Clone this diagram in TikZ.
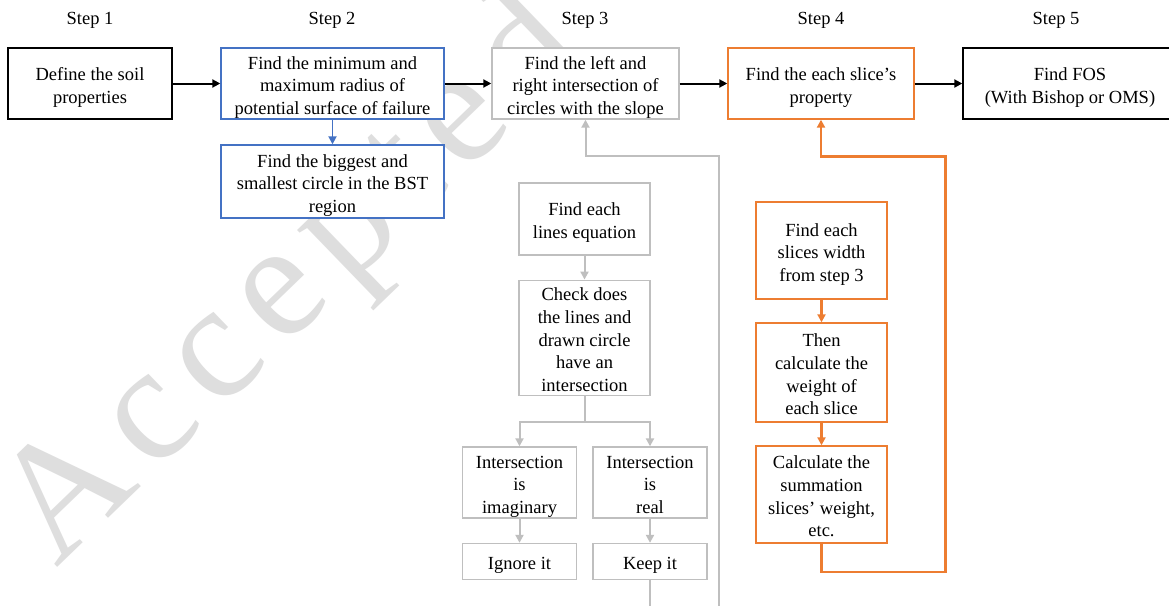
\documentclass[tikz,border=0pt]{standalone}
\usepackage{fontspec}
\setmainfont{Liberation Serif}
\newfontfamily\markfont[LetterSpace=10]{Liberation Serif}
\usetikzlibrary{arrows.meta}
\definecolor{boxblue}{HTML}{4472C4}
\definecolor{boxorange}{HTML}{ED7D31}
\definecolor{boxgrey}{HTML}{BFBFBF}
\definecolor{markgrey}{HTML}{DEDEDE}

\begin{document}
\begin{tikzpicture}[x=1pt,y=-1pt,
  every node/.style={font=\fontsize{18.5}{22.7}\selectfont},
  box/.style={draw, fill=white, line width=1.4pt, align=flush center, inner sep=0pt,
    text width=#1, minimum width=#1,
    execute at begin node={\noindent\rule{0pt}{20.5pt}},
    execute at end node={\rule[-4pt]{0pt}{4pt}}},
  blackbox/.style={box=#1, draw=black},
  bluebox/.style={box=#1, draw=boxblue},
  greybox/.style={box=#1, draw=boxgrey},
  orangebox/.style={box=#1, draw=boxorange},
  tip/.style={-{Triangle[length=8pt,width=8pt]}},
  blackline/.style={tip, line width=2pt, draw=black},
  blueline/.style={tip, line width=1.8pt, draw=boxblue},
  greyline/.style={tip, line width=2pt, draw=boxgrey},
  orangeline/.style={tip, line width=2.2pt, draw=boxorange},
  steplabel/.style={font=\fontsize{18.5}{22}\selectfont}]
\useasboundingbox (0,0) rectangle (1169,605);
\fill[white] (0,0) rectangle (1169,605);

% watermark behind everything
\node[rotate=44, anchor=base west, text=markgrey, inner sep=0pt,
      font=\markfont\fontsize{165}{165}\selectfont] (mark) at (56,569) {Accepted};

% step headings
\node[steplabel] (s1) at (90,20) {Step 1};
\node[steplabel] (s2) at (332,20) {Step 2};
\node[steplabel] (s3) at (585,20) {Step 3};
\node[steplabel] (s4) at (821,20) {Step 4};
\node[steplabel] (s5) at (1056,20) {Step 5};

% main row
\node[blackbox=164pt, minimum height=71pt] (b1) at (90,83.5) {Define the soil\\properties};
\node[bluebox=223pt, minimum height=71pt] (b2) at (332.5,83.5) {Find the minimum and\\maximum radius of\\potential surface of failure};
\node[greybox=187pt, minimum height=71pt] (b3) at (585.5,83.5) {Find the left and\\right intersection of\\circles with the slope};
\node[orangebox=186pt, minimum height=71pt] (b4) at (821,83.5) {Find the each slice’s\\property};
\node[blackbox=214pt, minimum height=71pt] (b5) at (1070,83.5) {Find FOS\\(With Bishop or OMS)};

\draw[blackline] (b1) -- (b2);
\draw[blackline] (b2) -- (b3);
\draw[blackline] (b3) -- (b4);
\draw[blackline] (b4) -- (b5);

% step 2 detail
\node[bluebox=223pt, minimum height=73pt] (b2b) at (332.5,181.5) {Find the biggest and\\smallest circle in the BST\\region};
\draw[blueline] (b2) -- (b2b);

% step 3 detail
\node[greybox=131pt, minimum height=72pt] (g1) at (584.5,219) {Find each\\lines equation};
\node[greybox=131pt, minimum height=115.5pt] (g2) at (584.5,338) {Check does\\the lines and\\drawn circle\\have an\\intersection};
\node[greybox=114pt, minimum height=71pt] (g3) at (519.5,482.5) {Intersection\\is\\imaginary};
\node[greybox=114pt, minimum height=71pt] (g4) at (650,482.5) {Intersection\\is\\real};
\node[greybox=114pt, minimum height=36pt] (g5) at (519.5,561.5) {Ignore it};
\node[greybox=114pt, minimum height=36pt] (g6) at (650,561.5) {Keep it};

\coordinate (split) at (584.5,422);
\coordinate (keepend) at (650,610);
\coordinate (loopbottom) at (718.5,610);
\coordinate (looptop) at (718.5,155.5);

\draw[greyline] (g1) -- (g2);
\draw[line width=2pt, draw=boxgrey] (g2.south) -- (split);
\draw[greyline] (split) -| (g3.north);
\draw[greyline] (split) -| (g4.north);
\draw[greyline] (g3) -- (g5);
\draw[greyline] (g4) -- (g6);
\draw[line width=2pt, draw=boxgrey] (g6.south) -- (keepend);
\draw[greyline] (loopbottom) -- (looptop) -| (b3.south);

% step 4 detail
\node[orangebox=131pt, minimum height=97pt] (o1) at (821.5,250.5) {Find each\\slices width\\from step 3};
\node[orangebox=131pt, minimum height=99pt] (o2) at (821.5,372.5) {Then\\calculate the\\weight of\\each slice};
\node[orangebox=131pt, minimum height=97pt] (o3) at (821.5,494.5) {Calculate the\\summation\\slices’ weight,\\etc.};

\coordinate (obl) at (821.5,572);
\coordinate (obr) at (945.5,572);
\coordinate (otr) at (945.5,156.5);

\draw[orangeline] (o1) -- (o2);
\draw[orangeline] (o2) -- (o3);
\draw[orangeline] (o3.south) -- (obl) -- (obr) -- (otr) -| (b4.south);
\end{tikzpicture}
\end{document}
